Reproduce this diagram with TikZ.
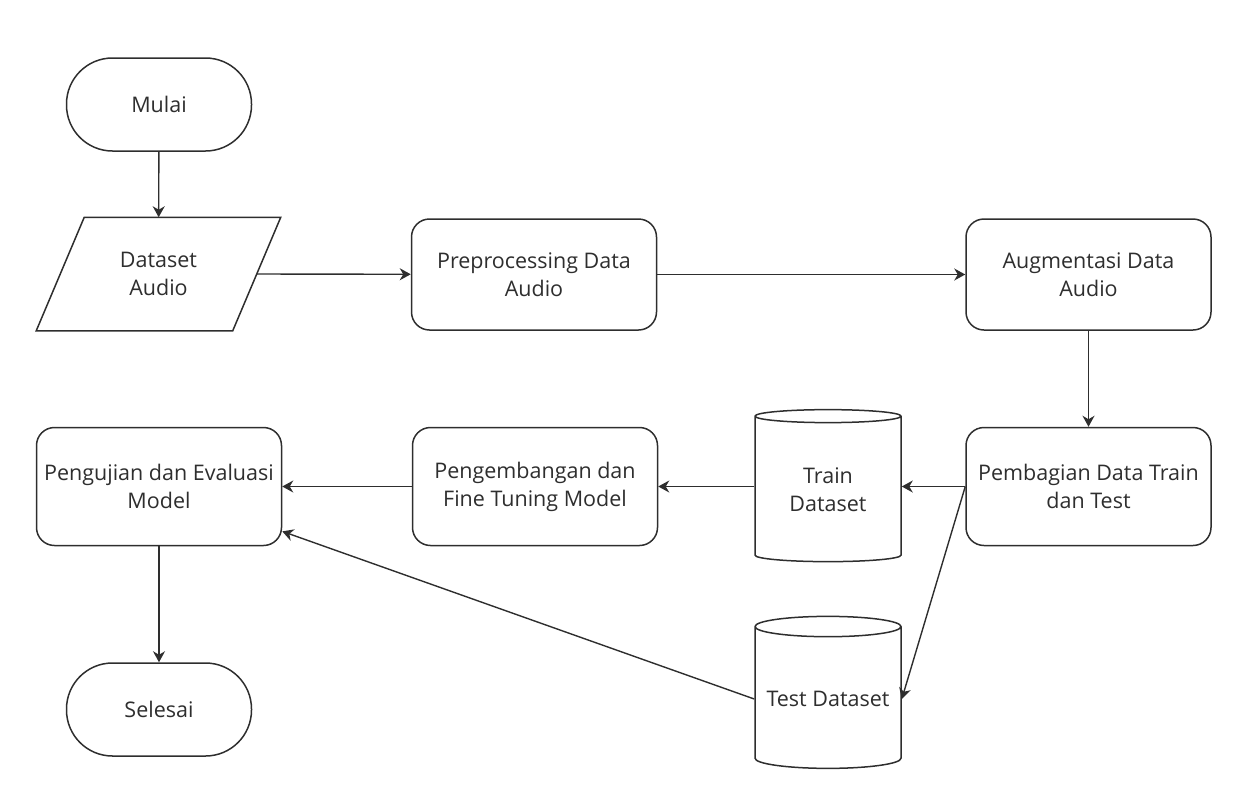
\documentclass[tikz,border=0pt]{standalone}
\usepackage{fontspec}
\setmainfont{Open Sans}
\usetikzlibrary{arrows.meta,%
		positioning,%
		shapes.geometric}
\definecolor{ink}{HTML}{2E2E2E}
\begin{document}
\begin{tikzpicture}[x=1pt,y=-1pt,
  font=\fontsize{21.5}{28}\selectfont,
  every node/.style={draw=ink,text=ink,line width=1.5pt,align=center,inner sep=2pt},
  terminal/.style={rounded corners=46pt,minimum width=185pt,minimum height=93pt},
  proses/.style={rounded corners=18pt,minimum width=245pt,minimum height=118pt},
  io/.style={draw=none,minimum width=243pt,minimum height=112pt},
  db/.style={cylinder,shape border rotate=90,cylinder uses custom fill=false,
    aspect=0.16,minimum width=146pt,minimum height=152pt},
  panah/.style={draw=ink,line width=1.4pt,-{Stealth[length=11pt,width=12pt,inset=3.5pt]}}]
  \useasboundingbox (0,0) rectangle (1247,801);
  % baris atas
  \node[terminal] (mulai) at (159,104.5) {Mulai};
  \node[io] (dataset) at (158.5,274) {Dataset\\Audio};
  \draw[draw=ink,line width=1.5pt] ([xshift=48pt]dataset.north west) -- (dataset.north east)
    -- ([xshift=-48pt]dataset.south east) -- (dataset.south west) -- cycle; %jajar genjang
  \coordinate (dataset kanan) at ([xshift=-24pt]dataset.east);
  \node[proses,minimum height=111pt] (prepro) at (534,274.5) {Preprocessing Data\\Audio};
  \node[proses,minimum height=111pt] (augmen) at (1088.5,274.5) {Augmentasi Data\\Audio};
  % baris tengah
  \node[proses] (bagi) at (1088.5,486.5) {Pembagian Data Train\\dan Test};
  \node[db] (train) at (828,490) {Train\\Dataset};
  \node[proses] (kembang) at (535,486.5) {Pengembangan dan\\Fine Tuning Model};
  \node[proses] (uji) at (159,486.5) {Pengujian dan Evaluasi\\Model};
  % baris bawah
  \node[db] (test) at (828,699) {Test Dataset};
  \node[terminal] (selesai) at (159,709.5) {Selesai};

  \draw[panah] (mulai) -- (dataset);
  \draw[panah] (dataset kanan) -- (prepro);
  \draw[panah] (prepro) -- (augmen);
  \draw[panah] (augmen) -- (bagi);
  \draw[panah] (bagi.west) -- (bagi.west -| train.east);
  \draw[panah] (bagi.west) -- (test.east);
  \draw[panah] (train.west |- kembang) -- (kembang);
  \draw[panah] (kembang) -- (uji);
  \draw[panah] (test.west) -- (uji.-20);
  \draw[panah] (uji) -- (selesai);
\end{tikzpicture}
\end{document}
